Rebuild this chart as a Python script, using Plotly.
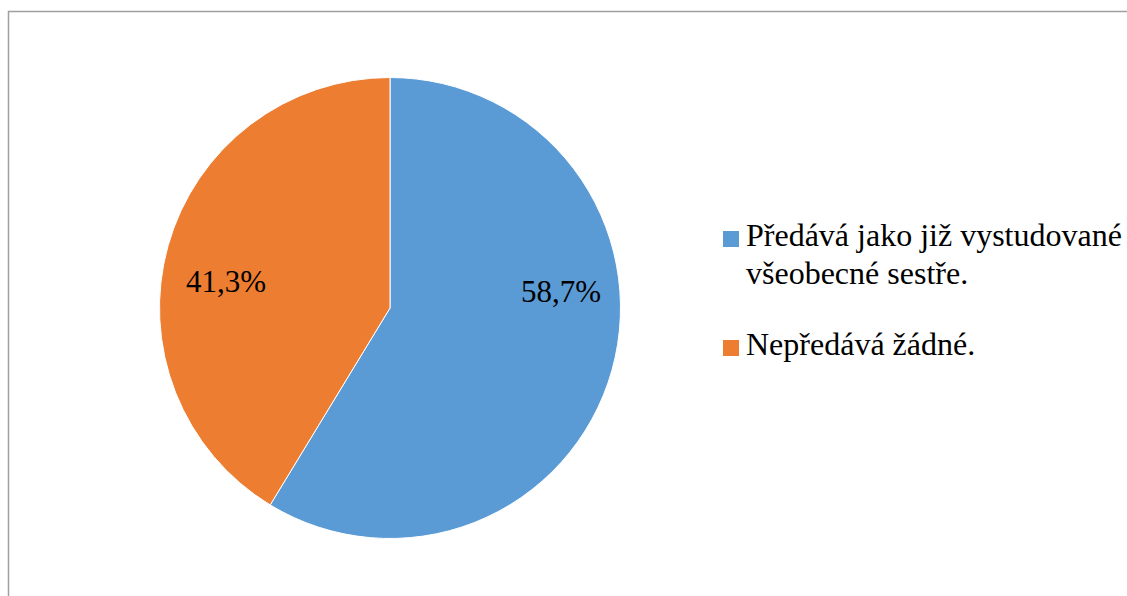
import plotly.graph_objects as go

W, H = 1127, 596

labels = ["Předává jako již vystudované<br>všeobecné sestře.", "Nepředává žádné."]
values = [58.7, 41.3]
colors = ["#5B9BD5", "#ED7D31"]
# label anchor points inside each slice (pixels from the top-left corner)
label_pos = [(561, 291), (226, 281)]

FONT = "Liberation Serif"


def px_x(x):
    return x / W


def px_y(y):
    return 1 - y / H


def dark(text):
    # colour the text run itself; the annotation font keeps only family and size
    return f'<span style="color:#000000">{text}</span>'


fig = go.Figure()
fig.add_trace(go.Pie(
    labels=labels,
    values=values,
    marker=dict(colors=colors, line=dict(color="white", width=1)),
    sort=False,
    direction="clockwise",
    rotation=0,
    textinfo="none",
    showlegend=False,
    hoverinfo="label+percent",
    domain=dict(x=[px_x(159.5), px_x(620.5)], y=[px_y(538.5), px_y(77.5)]),
))

total = sum(values)
annotations = []
for v, (lx, ly) in zip(values, label_pos):
    pct = f"{100 * v / total:.1f}%".replace(".", ",")
    annotations.append(dict(xref="paper", yref="paper", x=px_x(lx), y=px_y(ly),
                            xanchor="center", yanchor="middle", showarrow=False,
                            text=dark(pct), font=dict(family=FONT, size=31)))

# frame around the chart area
shapes = [dict(type="rect", xref="paper", yref="paper",
               x0=px_x(8.5), x1=px_x(1140), y0=px_y(11.5), y1=px_y(620),
               line=dict(color="#a0a0a0", width=1.5), fillcolor="rgba(0,0,0,0)")]

# legend: colour square plus label lines, 38 px line pitch
legend_tops = [231, 340]
LINE = 38
SIZE = 32
for lab, col, top in zip(labels, colors, legend_tops):
    shapes.append(dict(type="rect", xref="paper", yref="paper",
                       x0=px_x(723), x1=px_x(739), y0=px_y(top), y1=px_y(top + 16),
                       fillcolor=col, line=dict(width=0)))
    baseline = top + 16
    for i, line in enumerate(lab.split("<br>")):
        annotations.append(dict(xref="paper", yref="paper", x=px_x(744),
                                y=px_y(baseline + i * LINE - SIZE),
                                xanchor="left", yanchor="top", align="left", showarrow=False,
                                text=dark(line), font=dict(family=FONT, size=SIZE)))

fig.update_layout(
    width=W, height=H,
    margin=dict(l=0, r=0, t=0, b=0),
    paper_bgcolor="white",
    shapes=shapes,
    annotations=annotations,
)

fig.write_html("out.html")
